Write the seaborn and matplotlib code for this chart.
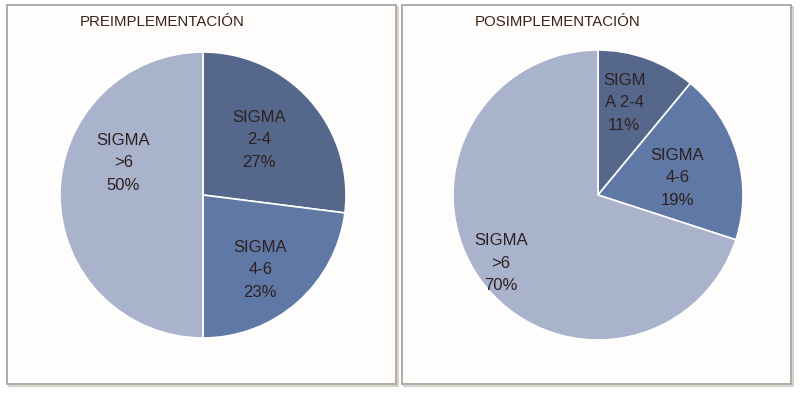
import matplotlib
matplotlib.use("Agg")
import numpy as np
import matplotlib.pyplot as plt
import seaborn as sns
from matplotlib.patches import Rectangle

# data
CATEGORIES = ["SIGMA 2-4", "SIGMA 4-6", "SIGMA >6"]
PRE_VALUES = [27, 23, 50]
POST_VALUES = [11, 19, 70]
PRE_LABELS = ["SIGMA\n2-4\n27%", "SIGMA\n4-6\n23%", "SIGMA\n>6\n50%"]
POST_LABELS = ["SIGM\nA 2-4\n11%", "SIGMA\n4-6\n19%", "SIGMA\n>6\n70%"]
TITLES = ["PREIMPLEMENTACIÓN", "POSIMPLEMENTACIÓN"]

COLORS = ["#55688c", "#5f78a5", "#a9b3cc"]
# in-slice label placement: (fraction of radius, angle nudge in degrees)
PRE_LABEL_POS = [(0.55, 3), (0.66, -4), (0.60, -22)]
POST_LABEL_POS = [(0.66, 4), (0.56, -4), (0.82, -1)]

sns.set_theme(style="white")
plt.rcParams['font.family'] = ['Liberation Sans', 'DejaVu Sans']

fig = plt.figure(figsize=(8.0, 3.98), dpi=100)
W, H = 800, 398

# panel frames (pixel boxes: x0, y0_top, x1, y1_bottom)
panels = [(7, 5, 396, 384), (402, 5, 791, 384)]
for x0, y0, x1, y1 in panels:
    # soft shadow then frame
    fig.patches.append(Rectangle(((x0 + 1.5) / W, 1 - (y1 + 1.5) / H),
                                 (x1 - x0) / W, (y1 - y0) / H,
                                 transform=fig.transFigure, facecolor='none',
                                 edgecolor='#d8d2cc', linewidth=1.5, zorder=-2))
    fig.patches.append(Rectangle((x0 / W, 1 - y1 / H), (x1 - x0) / W, (y1 - y0) / H,
                                 transform=fig.transFigure, facecolor='#fffdfc',
                                 edgecolor='#a8a4a0', linewidth=1.3, zorder=-1))

# pie axes (pixel boxes of the pie circles)
pie_boxes = [(60, 52, 346, 338), (453, 50, 743, 340)]
data = [(PRE_VALUES, PRE_LABELS, PRE_LABEL_POS),
        (POST_VALUES, POST_LABELS, POST_LABEL_POS)]
title_pos = [(80, 22), (475, 22)]

for (bx0, by0, bx1, by1), (vals, labels, lpos), title, (tx, ty) in zip(
        pie_boxes, data, TITLES, title_pos):
    ax = fig.add_axes([bx0 / W, 1 - by1 / H, (bx1 - bx0) / W, (by1 - by0) / H])
    ax.patch.set_visible(False)
    wedges, texts = ax.pie(vals, labels=labels, colors=COLORS, startangle=90,
                           counterclock=False, labeldistance=0.6, radius=1.0,
                           wedgeprops=dict(edgecolor='white', linewidth=1.2),
                           textprops=dict(fontsize=12, color='#2e2020',
                                          ha='center', va='center',
                                          linespacing=1.65))
    for w, t, (r, nudge) in zip(wedges, texts, lpos):
        mid = np.deg2rad((w.theta1 + w.theta2) / 2 + nudge)
        t.set_position((r * np.cos(mid), r * np.sin(mid)))
        t.set_horizontalalignment('center')
        t.set_verticalalignment('center')
    ax.set_xlim(-1.0, 1.0)
    ax.set_ylim(-1.0, 1.0)
    ax.set_aspect('equal')
    fig.text(tx / W, 1 - ty / H, title, fontsize=10.8, color='#3a2418',
             ha='left', va='center')

fig.savefig("out.png", dpi=100)
